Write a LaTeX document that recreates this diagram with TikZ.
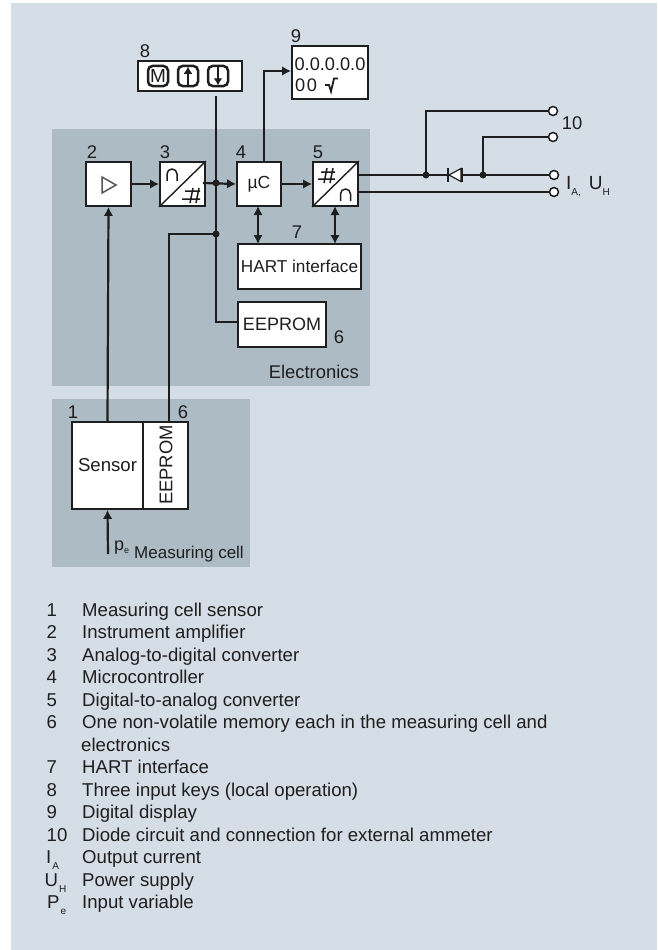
\documentclass[tikz,border=0pt]{standalone}
\usepackage{fontspec}
\setmainfont{Liberation Sans}
\usetikzlibrary{arrows.meta}
\definecolor{pagebg}{RGB}{213,221,230}
\definecolor{panel}{RGB}{173,188,196}
\definecolor{ink}{RGB}{30,30,30}
\newcommand{\lowsub}[1]{\raisebox{-6pt}{\fontsize{10}{10}\selectfont #1}}
\tikzset{
  box/.style={draw=ink,fill=white,line width=1.8pt,inner sep=0pt,text=ink},
  lbl/.style={inner sep=0pt,text=ink,font=\fontsize{18.4}{18.4}\selectfont},
  legnum/.style={anchor=base west,inner sep=0pt,text=ink,font=\fontsize{18.6}{18.6}\selectfont},
  wire/.style={draw=ink,line width=2.2pt},
  arr/.style={wire,-{Latex[length=9pt,width=9.5pt]}},
  darr/.style={wire,{Latex[length=9pt,width=9.5pt]}-{Latex[length=9pt,width=9.5pt]}},
  dot/.style={circle,fill=ink,inner sep=0pt,minimum size=7pt},
  term/.style={circle,draw=ink,fill=white,line width=1.5pt,inner sep=0pt,minimum size=9pt},
  sym/.style={draw=ink,line width=1.5pt},
  keybox/.style={draw=ink,fill=white,line width=2.5pt,rounded corners=4.5pt,inner sep=0pt,minimum width=20pt,minimum height=20pt},
}
\begin{document}
\begin{tikzpicture}[x=1pt,y=-1pt]
\useasboundingbox (0,0) rectangle (657,950);
\fill[white] (0,0) rectangle (657,950);
\fill[pagebg] (11,3) rectangle (657,950);
\fill[panel] (52,129) rectangle (370,386);
\fill[panel] (52,399) rectangle (250,567);

% boxes
\node[box,minimum width=104pt,minimum height=30pt] (keys) at (190,76) {};
\node[box,minimum width=76pt,minimum height=53pt] (disp) at (330,72.5) {};
\node[box,minimum width=45pt,minimum height=44pt] (amp) at (108.5,184) {};
\node[box,minimum width=45pt,minimum height=44pt] (adc) at (182.5,184) {};
\node[box,minimum width=44pt,minimum height=44pt,font=\fontsize{17.5}{18}\selectfont] (mc) at (259,184) {µC};
\node[box,minimum width=45pt,minimum height=44pt] (dac) at (335.5,184) {};
\node[box,minimum width=123pt,minimum height=45pt,font=\fontsize{17.2}{18}\selectfont] (hart) at (299.5,266.5) {HART interface\hspace{8pt}};
\node[box,minimum width=88pt,minimum height=45pt,font=\fontsize{18}{18}\selectfont] (eep) at (282,324.5) {EEPROM};
\node[box,minimum width=71pt,minimum height=87pt,font=\fontsize{18.6}{18}\selectfont] (sens) at (107.5,465.5) {Sensor\hspace{13pt}};
\node[box,minimum width=45pt,minimum height=87pt] (eepc) at (165.5,465.5) {};
\node[inner sep=0pt,rotate=90,text=ink,font=\fontsize{18.4}{18}\selectfont] (eept) at (166,465) {EEPROM};

% display text
\node[inner sep=0pt,text=ink,font=\fontsize{18.2}{18}\selectfont] (dtop) at (330,64) {0.0.0.0.0};
\node[inner sep=0pt,anchor=west,text=ink,font=\fontsize{18.2}{18}\selectfont] (dbot) at (295,85) {0\kern1.5pt 0};
\draw[wire,line width=1.8pt] (325,85) -- (329,85) -- (331,91.5) -- (334,78.5) -- (338,78.5);

% keys
\node[keybox] (km) at (158,76) {};
\node[inner sep=0pt,text=ink,font=\fontsize{19}{19}\selectfont] (kmt) at (158,76) {M};
\node[keybox] (ku) at (188,76) {};
\node[keybox] (kd) at (218,76) {};
\draw[wire,line width=1.7pt,-{Latex[length=7pt,width=9pt]}] (ku.south) -- ([yshift=-2pt]ku.north);
\draw[wire,line width=1.7pt,-{Latex[length=7pt,width=9pt]}] (kd.north) -- ([yshift=2pt]kd.south);

% symbols
\draw[draw=ink!75,line width=1.5pt] (102,177) -- (116,185) -- (102,193) -- cycle;
\draw[sym,line width=1.4pt] (adc.south west) -- (adc.north east);
\draw[sym,line width=1.4pt] (dac.south west) -- (dac.north east);
\draw[sym] (167,181) -- (167,174) arc[start angle=180,end angle=360,radius=5] -- (177,181);
\draw[sym] (340.5,201) -- (340.5,194) arc[start angle=180,end angle=360,radius=5] -- (350.5,201);
\draw[sym] (182,199) -- (200,199) (185,191) -- (200,191) (190,203) -- (193,188) (196,203) -- (199,188);
\draw[sym] (318,179) -- (335,179) (321,172) -- (335,172) (324,183) -- (327,168) (330,183) -- (333,168);

% named points
\coordinate (busT) at (216,96);
\coordinate (j1) at (216,183);
\coordinate (j2) at (216,234);
\coordinate (adcO) at (203,183);
\coordinate (mcTap) at (264,162);
\coordinate (dispIn) at (292,71);
\coordinate (hl) at (258,244);
\coordinate (hr) at (335,244);
\coordinate (mcb) at (258,206);
\coordinate (dacb) at (335,206);
\coordinate (eepIn) at (169,422);
\coordinate (o1) at (358,175);
\coordinate (o2) at (358,192);
\coordinate (pin) at (108,554);

% connectors
\draw[arr] (amp.east) -- (adc.west);
\draw[arr] (adcO) -- (mc.west);
\draw[arr] (mc.east) -- (dac.west);
\draw[arr] (sens.north) -- (amp.south);
\draw[arr] (pin) -- (sens.south);
\draw[arr] (mcTap) |- (disp.west |- dispIn);
\draw[darr] (mcb) -- (hl);
\draw[darr] (dacb) -- (hr);
\draw[wire] (busT) |- ([yshift=2.5pt]eep.west);
\draw[wire] (j2) -| (eepIn);

% outputs
\node[term] (t1) at (553,111) {};
\node[term] (t2) at (553,137) {};
\node[term] (t3) at (554,175) {};
\node[term] (t4) at (554,192) {};
\coordinate (ja) at (426,175);
\coordinate (jb) at (483,175);
\draw[wire] (o1) -- (t3);
\draw[wire] (o2) -- (t4);
\draw[wire] (ja) |- (t1);
\draw[wire] (jb) |- (t2);
\node[dot] (dotA) at (ja) {};
\node[dot] (dotB) at (jb) {};
\node[dot] (dotC) at (j1) {};
\node[dot] (dotD) at (j2) {};
\draw[draw=ink,fill=white,line width=1.2pt] (449,175) -- (461,168.5) -- (461,181.5) -- cycle;
\draw[wire] (448,168) -- (448,182) (462,168) -- (462,182);

% labels
\node[lbl] (n8) at (145,51) {8};
\node[lbl] (n9) at (296,36) {9};
\node[lbl] (n2) at (92,152) {2};
\node[lbl] (n3) at (165,152) {3};
\node[lbl] (n4) at (241,152) {4};
\node[lbl] (n5) at (318,152) {5};
\node[lbl] (n7) at (297,232) {7};
\node[lbl] (n6a) at (339,337) {6};
\node[lbl,anchor=east] (nel) at (359,372) {Electronics};
\node[lbl] (n1) at (73,412) {1};
\node[lbl] (n6b) at (183,412) {6};
\node[lbl,anchor=base west,font=\fontsize{18}{18}\selectfont] (pe) at (114,550) {p\raisebox{-3pt}{\fontsize{9}{9}\selectfont e}};
\node[lbl,anchor=base west,font=\fontsize{17}{18}\selectfont] (nmc) at (134,558) {Measuring cell};
\node[lbl] (n10) at (572,123) {10};
\node[lbl,anchor=base west,font=\fontsize{19}{19}\selectfont] (nia) at (566,189) {I\lowsub{A,}\kern8pt U\lowsub{H}};

% legend
\foreach \n/\t/\y in {
  1/Measuring cell sensor/616,
  2/Instrument amplifier/638.5,
  3/Analog-to-digital converter/661,
  4/Microcontroller/683.5,
  5/Digital-to-analog converter/706,
  6/One non-volatile memory each in the measuring cell and/728.5,
  7/HART interface/773.5,
  8/Three input keys (local operation)/796,
  9/Digital display/818.5,
  10/Diode circuit and connection for external ammeter/841}{
  \node[legnum] at (46.5,\y) {\n};
  \node[legnum] at (82,\y) {\t};
}
\node[legnum] (lel) at (81,751) {electronics};
\node[legnum] (lia) at (46,863.5) {I\kern1pt\lowsub{A}};
\node[legnum] (liat) at (82,863.5) {Output current};
\node[legnum] (luh) at (44.5,886) {U\kern1pt\lowsub{H}};
\node[legnum] (luht) at (82,886) {Power supply};
\node[legnum] (lpe) at (47,908.5) {P\kern1pt\lowsub{e}};
\node[legnum] (lpet) at (82,908.5) {Input variable};
\end{tikzpicture}
\end{document}
